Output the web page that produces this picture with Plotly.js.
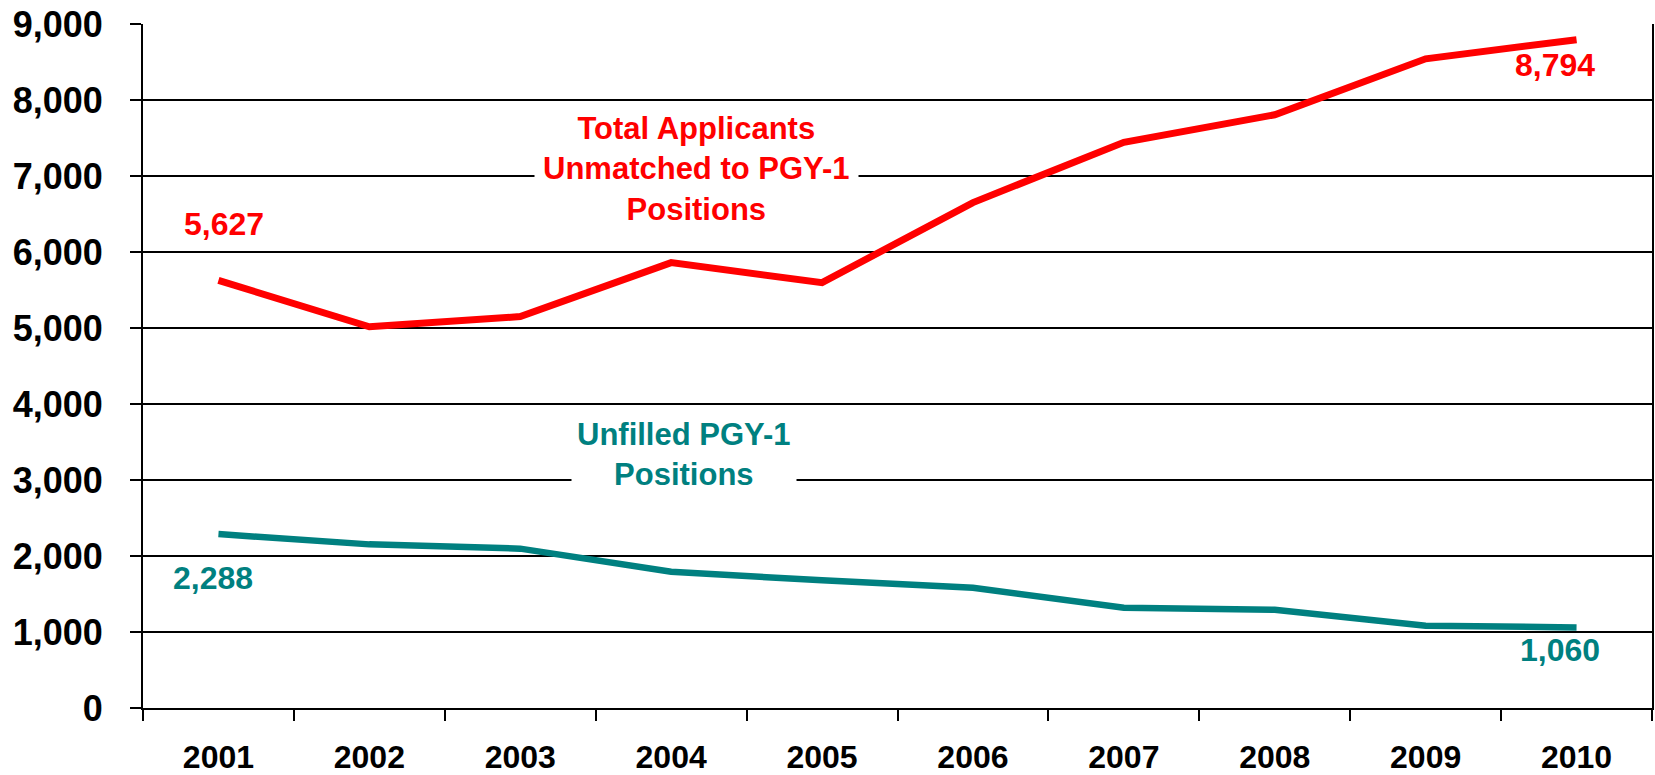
<!DOCTYPE html>
<html>
<head>
<meta charset="utf-8">
<script src="https://cdn.plot.ly/plotly-3.0.1.min.js"></script>
<style>html,body{margin:0;padding:0;background:#fff;}#chart{width:1655px;height:775px;}</style>
</head>
<body>
<div id="chart"></div>
<script>
const years = ["2001","2002","2003","2004","2005","2006","2007","2008","2009","2010"];
const unmatchedApplicants = [5627, 5016, 5150, 5860, 5597, 6650, 7444, 7806, 8542, 8794];
const unfilledPositions = [2288, 2153, 2097, 1792, 1681, 1583, 1319, 1292, 1083, 1060];
const yTickVals = [0,1000,2000,3000,4000,5000,6000,7000,8000,9000];
const yTickText = ["0","1,000","2,000","3,000","4,000","5,000","6,000","7,000","8,000","9,000"];

const RED = "#ff0000", TEAL = "#008080";
const FONT = "Liberation Sans, Arial, sans-serif";

const traces = [
  {x: years, y: unmatchedApplicants, type: "scatter", mode: "lines",
   line: {color: RED, width: 7}, hoverinfo: "x+y"},
  {x: years, y: unfilledPositions, type: "scatter", mode: "lines",
   line: {color: TEAL, width: 6.5}, hoverinfo: "x+y"}
];

function fmt(v){ return v.toLocaleString("en-US"); }

const layout = {
  width: 1655, height: 775,
  margin: {l: 143, r: 3, t: 24, b: 67},
  paper_bgcolor: "#fff", plot_bgcolor: "#fff",
  showlegend: false,
  font: {family: FONT, color: "#000"},
  xaxis: {
    type: "category", range: [-0.5, 9.5],
    tickson: "boundaries", ticks: "outside", ticklen: 11, tickwidth: 2, tickcolor: "#000",
    showgrid: false, zeroline: false,
    showline: true, linecolor: "#000", linewidth: 2, mirror: false,
    tickfont: {family: FONT, size: 32, color: "#000", weight: "bold"},
    ticklabelstandoff: 20
  },
  yaxis: {
    range: [0, 9000], tickvals: yTickVals, ticktext: yTickText,
    ticks: "outside", ticklen: 11, tickwidth: 2, tickcolor: "#000",
    showgrid: true, gridcolor: "#000", gridwidth: 1.8,
    zeroline: false, showline: true, linecolor: "#000", linewidth: 2, mirror: true,
    tickfont: {family: FONT, size: 36, color: "#000", weight: "bold"},
    ticklabelstandoff: 20
  },
  annotations: [
    {x: 3.17, y: 7093, xref: "x", yref: "y", showarrow: false,
     text: "Total Applicants<br>Unmatched to PGY-1<br>Positions",
     font: {family: FONT, size: 31, color: RED, weight: "bold"},
     bgcolor: "#fff", borderpad: 8, align: "center"},
    {x: 3.085, y: 3340, xref: "x", yref: "y", showarrow: false,
     text: "Unfilled PGY-1<br>Positions",
     font: {family: FONT, size: 31, color: TEAL, weight: "bold"},
     bgcolor: "#fff", borderpad: 5, align: "center"},
    {x: 0.04, y: 6368, xref: "x", yref: "y", showarrow: false,
     text: fmt(unmatchedApplicants[0]),
     font: {family: FONT, size: 32, color: RED, weight: "bold"}},
    {x: 8.86, y: 8461, xref: "x", yref: "y", showarrow: false,
     text: fmt(unmatchedApplicants[9]),
     font: {family: FONT, size: 32, color: RED, weight: "bold"}},
    {x: -0.036, y: 1711, xref: "x", yref: "y", showarrow: false,
     text: fmt(unfilledPositions[0]),
     font: {family: FONT, size: 32, color: TEAL, weight: "bold"}},
    {x: 8.89, y: 763, xref: "x", yref: "y", showarrow: false,
     text: fmt(unfilledPositions[9]),
     font: {family: FONT, size: 32, color: TEAL, weight: "bold"}}
  ]
};

Plotly.newPlot("chart", traces, layout, {displayModeBar: false, staticPlot: true});
</script>
</body>
</html>
